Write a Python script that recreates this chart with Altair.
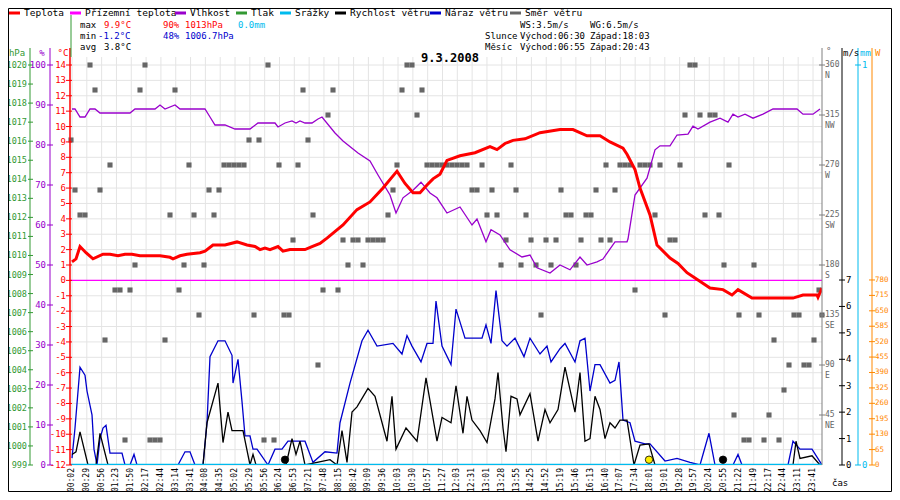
import altair as alt
import pandas as pd

# ---------------- data ----------------
time_labels = ["00:02","00:29","00:56","01:23","01:50","02:17","02:44","03:14","03:41","04:08",
               "04:35","05:02","05:29","05:56","06:24","06:53","07:21","07:48","08:15","08:42",
               "09:09","09:36","10:03","10:30","10:57","11:27","12:03","12:31","13:01","13:28",
               "13:55","14:25","14:52","15:19","15:46","16:13","16:40","17:07","17:34","18:01",
               "19:01","19:28","19:57","20:24","20:55","21:22","21:49","22:17","22:44","23:11","23:41"]
LABEL_STEP = 14.82  # readings between labelled samples

temp = [(0,1.2),(4,1.4),(8,2.2),(14,1.8),(21,1.4),(31,1.7),(38,1.7),(46,1.6),(53,1.7),(60,1.7),(68,1.6),
        (88,1.6),(98,1.5),(101,1.4),(108,1.6),(115,1.7),(128,1.8),(133,1.9),(141,2.3),(153,2.3),(165,2.5),
        (175,2.3),(183,2.2),(188,2.0),(193,2.1),(198,2.0),(206,2.2),(211,1.9),(218,2.0),(233,2.0),(240,2.2),
        (248,2.4),(255,2.75),(271,3.6),(285,4.6),(298,5.1),(311,6.0),(325,7.1),(333,6.3),(341,5.7),(348,5.7),
        (355,6.2),(361,6.6),(368,6.9),(375,7.8),(388,8.1),(403,8.3),(418,8.7),(425,8.5),(433,8.9),(441,9.1),
        (453,9.2),(468,9.6),(488,9.8),(501,9.8),(515,9.4),(528,9.4),(538,9.0),(551,8.6),(555,8.2),(563,7.2),
        (568,6.0),(578,4.25),(585,2.3),(598,1.45),(606,1.1),(615,0.5),(623,0.15),(638,-0.5),(651,-0.6),
        (660,-0.95),(666,-0.6),(680,-1.15),(721,-1.15),(731,-0.95),(745,-0.95),(746,-1.1),(750,-0.5)]

humid = [(0,89),(3,89),(8,87),(13,87),(18,89),(23,89),(28,88),(58,88),(63,89),(83,89),(88,90),(93,89),
         (103,90),(108,89),(133,89),(138,87),(143,85),(153,85),(163,84),(178,84),(186,85.5),(203,85.5),
         (206,84.5),(213,85.5),(220,86),(224,85.5),(228,86),(233,85.5),(240,85.5),(246,86.5),(250,87),
         (263,83),(271,81),(286,78),(298,76),(306,72.5),(318,67.5),(324,63),(331,66.8),(341,68.7),(349,70.7),
         (358,68),(365,66.8),(375,63),(388,64.5),(400,60),(405,61.5),(414,55.8),(419,58.8),(428,57.5),
         (438,53.8),(450,52),(458,52.5),(465,49.3),(478,48),(488,50),(498,48.8),(508,52),(515,50),
         (525,50.8),(531,51.5),(543,55.8),(555,55.8),(556,56.5),(563,67.5),(575,71.7),(583,78.8),(588,79.8),
         (598,79.8),(605,82.5),(616,82.7),(621,84.7),(626,84),(638,85.7),(648,86.7),(656,85.7),(661,87.7),
         (666,87),(673,87.7),(681,86.7),(691,87.7),(701,89),(725,89),(731,87.7),(741,87.7),(748,89)]

gust = [(0,0.26),(3,1.4),(8,3.7),(13,3.4),(15,2.8),(20,1.9),(22,0.6),(25,0),(28,1.0),(31,1.4),(34,1.5),
        (38,0.45),(50,0.45),(53,0),(58,0),(62,0.4),(65,0),(106,0),(113,0.5),(118,0.5),(123,0),(131,0),
        (135,1.6),(138,4.1),(146,4.7),(153,4.7),(160,4.15),(161,3.1),(166,4.0),(170,2.4),(173,1.1),(178,1.1),
        (181,0.6),(185,0.6),(196,0),(203,0.6),(210,0.6),(216,0.9),(233,0.9),(241,0.1),(253,0.5),(265,0.45),
        (268,1.6),(278,3.1),(290,4.7),(296,5.1),(305,4.5),(321,4.6),(330,4.2),(335,4.9),(340,4.5),(349,3.9),
        (355,4.6),(361,4.6),(364,6.2),(370,4.5),(379,3.8),(384,5.9),(393,4.8),(410,4.8),(414,5.3),(419,4.6),
        (424,6.6),(430,4.7),(435,4.5),(443,4.8),(452,4.1),(458,4.8),(468,4.2),(475,4.5),(479,3.9),(488,4.4),
        (493,4.6),(503,3.9),(508,4.7),(513,4.8),(518,2.8),(523,3.8),(528,3.8),(538,3.1),(543,3.2),(547,3.9),
        (551,1.7),(558,1.6),(563,0.9),(573,0.8),(578,0.8),(593,0.15),(605,0.25),(618,0.1),(628,0),(637,1.2),
        (643,0),(661,0),(666,0.4),(670,0),(716,0),(721,0.9),(728,0.6),(740,0.6),(750,0)]

speed = [(0,0.4),(4,0.5),(8,1.25),(16,0),(24,0),(28,1.2),(36,0),(131,0),(135,1.6),(146,3.1),(151,0.85),
         (156,2.0),(160,1.3),(168,1.3),(171,1.3),(178,0),(181,0.4),(184,0),(214,0),(220,1.0),(224,0.4),
         (228,0.9),(233,0),(258,0.2),(265,0),(270,1.3),(275,0.1),(280,2.0),(285,2.2),(296,2.9),(303,2.6),
         (315,0.9),(320,2.6),(324,0.6),(334,1.4),(345,0.9),(354,3.3),(365,0.9),(370,1.8),(379,1.6),(384,3.0),
         (391,1.2),(395,2.6),(400,1.7),(408,1.3),(415,0.85),(423,2.5),(426,3.5),(431,1.4),(434,0.5),(439,2.6),
         (445,2.5),(448,1.9),(458,2.7),(466,0.9),(473,2.1),(478,1.6),(486,2.1),(493,3.7),(503,2.0),(508,3.5),
         (513,0.9),(518,1.0),(523,2.6),(528,2.1),(533,1.0),(538,1.6),(543,1.4),(548,1.7),(555,1.7),(562,0),
         (568,0.75),(577,0.8),(583,0),(721,0),(724,0.9),(728,0.25),(740,0.35),(748,0)]

direction = {
    360: [18,73,196,335,340,618,623],
    337.5: [23,68,103,231,261,330,350],
    315: [256,345,613,628,638,643],
    292.5: [-1,177,187,236],
    270: [38,117,152,157,162,167,172,207,226,325,355,360,365,370,375,380,385,390,395,410,439,534,548,553,
          558,568,573,578,588,608,657],
    247.5: [3,28,137,147,321,400,405,420,444,489,524,543],
    225: [8,13,98,122,142,241,316,415,425,454,494,499,514,519,583,633,647],
    202.5: [221,271,281,286,296,301,306,311,434,459,474,484,509,529,538,598,603],
    180: [63,112,132,276,291,429,449,464,479,504,652,682],
    157.5: [43,48,58,107,251,266,563,747],
    135: [127,182,212,217,469,593,667,687,722,727,750],
    112.5: [33,93,702,742],
    90: [246,717,732,737],
    67.5: [712],
    45: [662,697],
    22.5: [53,78,83,88,192,202,672,677,692,707],
}
dew_point = 0.0
markers = [(213, "black"), (577, "#ffee00"), (651, "black")]

pressure_ticks = list(range(999, 1021))
humid_ticks = list(range(0, 101, 10))
temp_ticks = list(range(-12, 15))
dir_ticks = [(45,"NE"),(90,"E"),(135,"SE"),(180,"S"),(225,"SW"),(270,"W"),(315,"NW"),(360,"N")]
wind_ticks = list(range(0, 8))
power_ticks = list(range(0, 781, 65))

# ---------------- scales ----------------
XDOM = [-2, 750]
W, H = 752, 408
FONT = "DejaVu Sans Mono"
def xs():
    return alt.Scale(domain=XDOM, nice=False, zero=False)
def ys(dom):
    return alt.Scale(domain=dom, nice=False, zero=False)
TD = [-12, 14.52]; HD = [0, 102]; PD = [999, 1020.42]; DD = [0, 367.2]; WD = [0, 15.44]; PWD = [0, 1720]

RED, PINK, PURP, GREEN, CYAN, BLACK, BLUE, GRAY, ORANGE = (
    "#ff0000", "#ff00ff", "#9900cc", "#339933", "#00bbee", "#000000", "#0000cc", "#666666", "#ff8800")

def X(px): return px - 70
def Y(py): return py - 57

layers = []

def line(pts, dom, color, width=1.2):
    df = pd.DataFrame(pts, columns=["n", "v"])
    return alt.Chart(df).mark_line(color=color, strokeWidth=width, clip=True, interpolate="linear").encode(
        x=alt.X("n:Q", scale=xs(), axis=None), y=alt.Y("v:Q", scale=ys(dom), axis=None))

gx = pd.DataFrame({"n": [i * LABEL_STEP for i in range(len(time_labels))]})
layers.append(alt.Chart(gx).mark_rule(color="#e4e4e4", strokeWidth=1).encode(
    x=alt.X("n:Q", scale=xs(), axis=None), y=alt.value(0), y2=alt.value(H)))
gy = pd.DataFrame({"v": temp_ticks})
layers.append(alt.Chart(gy).mark_rule(color="#e4e4e4", strokeWidth=1).encode(
    y=alt.Y("v:Q", scale=ys(TD), axis=None), x=alt.value(0), x2=alt.value(W)))

dpts = [(n, d) for d, ns in direction.items() for n in ns]
ddf = pd.DataFrame(dpts, columns=["n", "d"])
layers.append(alt.Chart(ddf).mark_square(color=GRAY, size=26, opacity=1).encode(
    x=alt.X("n:Q", scale=xs(), axis=None), y=alt.Y("d:Q", scale=ys(DD), axis=None)))

layers.append(line([(XDOM[0], dew_point), (XDOM[1], dew_point)], TD, PINK, 1.3))
layers.append(line(humid, HD, PURP, 1.3))
layers.append(line(temp, TD, RED, 3))
layers.append(line(gust, WD, BLUE, 1.3))
layers.append(line(speed, WD, BLACK, 1.3))
layers.append(line([(XDOM[0], 0), (XDOM[1], 0)], [0, 1.02], CYAN, 2.5))

mdf = pd.DataFrame([(n, 0.2, c) for n, c in markers], columns=["n", "v", "c"])
layers.append(alt.Chart(mdf).mark_circle(size=55, opacity=1, stroke="black", strokeWidth=0.8).encode(
    x=alt.X("n:Q", scale=xs(), axis=None), y=alt.Y("v:Q", scale=ys(WD), axis=None),
    color=alt.Color("c:N", scale=None)))

def vrule(px, y1, y2, color, w=1):
    return alt.Chart(pd.DataFrame({"a": [0]})).mark_rule(color=color, strokeWidth=w).encode(
        x=alt.value(X(px)), y=alt.value(Y(y1)), y2=alt.value(Y(y2)))

def ticks(vals, dom, x1, x2, color):
    df = pd.DataFrame({"v": vals})
    return alt.Chart(df).mark_rule(color=color).encode(
        y=alt.Y("v:Q", scale=ys(dom), axis=None), x=alt.value(X(x1)), x2=alt.value(X(x2)))

def tlabels(vals, texts, dom, px, color, align, dy=0, size=9):
    df = pd.DataFrame({"v": vals, "t": texts})
    return alt.Chart(df).mark_text(color=color, font=FONT, fontSize=size, align=align, baseline="middle", dy=dy).encode(
        y=alt.Y("v:Q", scale=ys(dom), axis=None), x=alt.value(X(px)), text="t:N")

layers += [
    vrule(30, 48, 465, GREEN), ticks(pressure_ticks, PD, 28, 33, GREEN),
    tlabels(pressure_ticks, [str(p) for p in pressure_ticks], PD, 27, GREEN, "right", size=8.5),
    vrule(50, 48, 465, PURP), ticks(humid_ticks, HD, 47, 53, PURP),
    tlabels(humid_ticks, [str(h) for h in humid_ticks], HD, 46, PURP, "right"),
    vrule(70, 48, 465, RED, 1.5), ticks(temp_ticks, TD, 66, 72, RED),
    tlabels(temp_ticks, [str(t) for t in temp_ticks], TD, 66, RED, "right"),
    vrule(71, 15, 57, GREEN),
    vrule(822, 48, 465, "#808080"), ticks([d for d, _ in dir_ticks], DD, 819, 825, "#808080"),
    tlabels([d for d, _ in dir_ticks], [str(d) for d, _ in dir_ticks], DD, 825, GRAY, "left", size=8),
    tlabels([d for d, _ in dir_ticks], [s for _, s in dir_ticks], DD, 825, GRAY, "left", dy=11, size=8),
    vrule(842, 48, 465, BLACK), ticks(wind_ticks, WD, 839, 845, BLACK),
    tlabels(wind_ticks, [str(w) for w in wind_ticks], WD, 846, BLACK, "left"),
    vrule(858, 48, 465, CYAN), ticks([0, 1], [0, 1.02], 855, 861, CYAN),
    tlabels([0, 1], ["0", "1"], [0, 1.02], 862, CYAN, "left"),
    vrule(872, 48, 465, ORANGE), ticks(power_ticks, PWD, 869, 875, ORANGE),
    tlabels(power_ticks, [str(p) for p in power_ticks], PWD, 875, ORANGE, "left", size=7.5),
]

tdf = pd.DataFrame({"n": [i * LABEL_STEP for i in range(len(time_labels))], "t": time_labels})
layers.append(alt.Chart(tdf).mark_text(font=FONT, fontSize=8, angle=270, align="right", baseline="middle",
                                       color="black").encode(
    x=alt.X("n:Q", scale=xs(), axis=None), y=alt.value(Y(468)), text="t:N"))

def T(px, py, text, color="black", size=9, align="left", bold=False):
    return alt.Chart(pd.DataFrame({"a": [0]})).mark_text(
        text=text, color=color, font=FONT, fontSize=size, align=align, baseline="middle",
        fontWeight="bold" if bold else "normal").encode(x=alt.value(X(px)), y=alt.value(Y(py)))

def seg(px1, px2, py, color):
    return alt.Chart(pd.DataFrame({"a": [0]})).mark_rule(color=color, strokeWidth=3).encode(
        x=alt.value(X(px1)), x2=alt.value(X(px2)), y=alt.value(Y(py)))

legend = [(9, "Teplota", RED), (70, "Přízemní teplota", PINK), (175, "Vlhkost", PURP), (236, "Tlak", GREEN),
          (280, "Srážky", CYAN), (335, "Rychlost větru", BLACK), (430, "Náraz větru", BLUE),
          (510, "Směr větru", GRAY)]
for px, name, col in legend:
    layers.append(seg(px, px + 11, 13, col))
    layers.append(T(px + 15, 13, name, size=9.5))

layers += [
    T(80, 25, "max"), T(104, 25, "9.9°C", RED), T(163, 25, "90%", RED), T(185, 25, "1013hPa", RED),
    T(238, 25, "0.0mm", CYAN),
    T(80, 36, "min"), T(98, 36, "-1.2°C", BLUE), T(163, 36, "48%", BLUE), T(185, 36, "1006.7hPa", BLUE),
    T(80, 47, "avg"), T(104, 47, "3.8°C"),
    T(520, 25, "WS:3.5m/s"), T(590, 25, "WG:6.5m/s"),
    T(485, 36, "Slunce"), T(520, 36, "Východ:06:30"), T(590, 36, "Západ:18:03"),
    T(485, 47, "Měsíc"), T(520, 47, "Východ:06:55"), T(590, 47, "Západ:20:43"),
    T(450, 58, "9.3.2008", size=12, align="center", bold=True),
    T(17, 53, "hPa", GREEN, align="center"), T(42, 53, "%", PURP, align="center"),
    T(63, 53, "°C", RED, align="center"), T(826, 51, "°", GRAY),
    T(843, 53, "m/s"), T(860, 53, "mm", CYAN), T(875, 53, "W", ORANGE),
    T(832, 483, "čas"),
]
layers.append(alt.Chart(pd.DataFrame({"a": [0]})).mark_rect(fill=None, stroke="black", strokeWidth=1).encode(
    x=alt.value(X(8.5)), x2=alt.value(X(891.5)), y=alt.value(Y(8.5)), y2=alt.value(Y(491.5))))

chart = alt.layer(*layers).resolve_scale(y="independent").properties(
    width=W, height=H, padding={"left": 62, "top": 49, "right": 70, "bottom": 27},
    autosize=alt.AutoSizeParams(type="none"), background="white"
).configure_view(stroke=None)

chart.save("out.html", embed_options={"renderer": "svg", "actions": False})
